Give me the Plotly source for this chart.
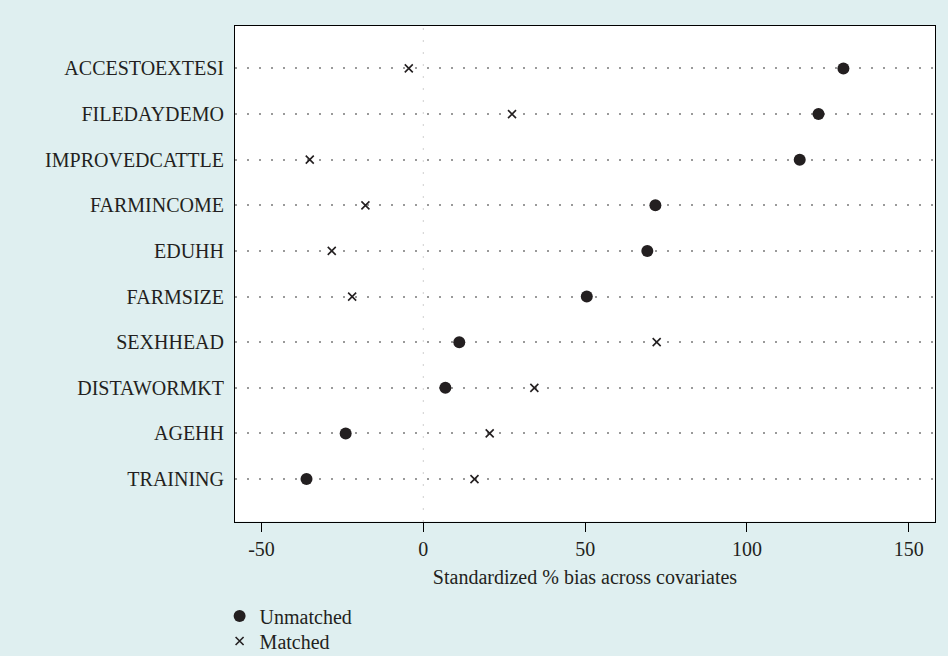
import plotly.graph_objects as go

covariates = ["TRAINING", "AGEHH", "DISTAWORMKT", "SEXHHEAD", "FARMSIZE",
              "EDUHH", "FARMINCOME", "IMPROVEDCATTLE", "FILEDAYDEMO", "ACCESTOEXTESI"]
unmatched = [-36.1, -24.0, 6.8, 11.1, 50.5, 69.2, 71.7, 116.3, 122.1, 129.8]
matched = [15.8, 20.5, 34.3, 72.1, -22.0, -28.3, -17.9, -35.1, 27.4, -4.5]
x_ticks = [-50, 0, 50, 100, 150]

BG = "#dfeff0"
INK = "#231f20"
FONT = "Liberation Serif"

fig = go.Figure()
fig.add_trace(go.Scatter(
    x=unmatched, y=covariates, mode="markers", name="Unmatched", legend="legend",
    marker=dict(symbol="circle", size=12, color=INK, line=dict(width=0)),
))
fig.add_trace(go.Scatter(
    x=matched, y=covariates, mode="markers", name="Matched", legend="legend2",
    marker=dict(symbol="x-thin", size=8, color=INK, line=dict(width=1.6, color=INK)),
))

fig.add_shape(type="line", xref="x", yref="y domain", x0=0, x1=0, y0=0, y1=1,
              line=dict(color="#b0b0b0", width=1.2, dash="1px,11px"), layer="below")

legend_common = dict(xref="paper", yref="container", x=-0.022, xanchor="left",
                     yanchor="middle", bgcolor="rgba(0,0,0,0)",
                     font=dict(size=20), itemwidth=30)

fig.update_layout(
    width=948, height=656,
    paper_bgcolor=BG, plot_bgcolor="white",
    margin=dict(l=235, r=13, t=26, b=133),
    font=dict(family=FONT, size=20, color=INK),
    showlegend=True,
    legend=dict(y=1 - 616 / 656, **legend_common),
    legend2=dict(y=1 - 641 / 656, **legend_common),
)
fig.update_xaxes(
    range=[-58.2, 158.1], tickvals=x_ticks, ticktext=[str(v) for v in x_ticks],
    showgrid=False, zeroline=False,
    showline=True, mirror=True, linecolor="black", linewidth=1,
    ticks="outside", ticklen=9, tickwidth=1, tickcolor="black",
    tickfont=dict(size=20),
    title=dict(text="Standardized % bias across covariates", font=dict(size=20), standoff=11),
)
fig.update_yaxes(
    type="category", categoryorder="array", categoryarray=covariates,
    range=[-0.93, 9.93],
    showgrid=True, gridcolor="#9a9a9a", gridwidth=1.5, griddash="1.5px,10.5px",
    zeroline=False,
    showline=True, mirror=True, linecolor="black", linewidth=1,
    ticks="", ticklabelstandoff=6, tickfont=dict(size=20),
)

fig.write_html("out.html", config={"displayModeBar": False},
               post_script="document.body.style.margin='0';")
